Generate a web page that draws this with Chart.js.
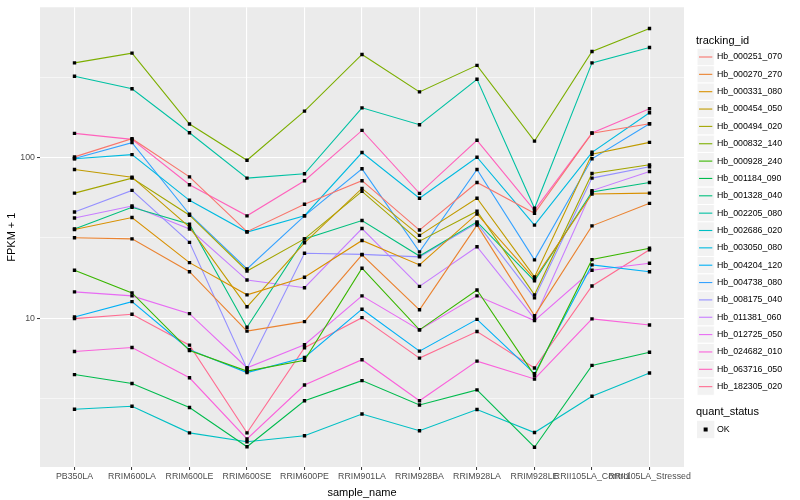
<!DOCTYPE html>
<html>
<head>
<meta charset="utf-8">
<script src="https://cdn.jsdelivr.net/npm/chart.js@4.4.1/dist/chart.umd.min.js"></script>
<style>
  html, body { margin: 0; padding: 0; background: #fff; }
  #wrap { width: 800px; height: 500px; }
</style>
</head>
<body>
<div id="wrap"><canvas id="chart"></canvas></div>
<script>
// =============================
// DATA (FPKM + 1)
// =============================
const samples = ['PB350LA', 'RRIM600LA', 'RRIM600LE', 'RRIM600SE', 'RRIM600PE', 'RRIM901LA',
  'RRIM928BA', 'RRIM928LA', 'RRIM928LE', 'RRII105LA_Control', 'RRII105LA_Stressed'];

const trackingIds = ['Hb_000251_070', 'Hb_000270_270', 'Hb_000331_080', 'Hb_000454_050',
  'Hb_000494_020', 'Hb_000832_140', 'Hb_000928_240', 'Hb_001184_090', 'Hb_001328_040',
  'Hb_002205_080', 'Hb_002686_020', 'Hb_003050_080', 'Hb_004204_120', 'Hb_004738_080',
  'Hb_008175_040', 'Hb_011381_060', 'Hb_012725_050', 'Hb_024682_010', 'Hb_063716_050',
  'Hb_182305_020'];

const colours = ['#F8766D', '#EA8331', '#D89000', '#C09B00', '#A3A500', '#7CAE00', '#39B600',
  '#00BB4E', '#00BF7D', '#00C1A3', '#00BFC4', '#00BAE0', '#00B0F6', '#35A2FF', '#9590FF',
  '#C77CFF', '#E76BF3', '#FA62DB', '#FF62BC', '#FF6C91'];

const Hb_000251_070 = [101, 131, 75.8, 34.6, 51.2, 71.8, 35.4, 70, 45, 141.8, 162.3];
const Hb_000270_270 = [31.7, 31.2, 19.5, 8.33, 9.54, 24.8, 11.3, 38, 10.4, 37.6, 51.9];
const Hb_000331_080 = [35.7, 42.4, 22.2, 14, 18, 30.5, 21.5, 44.6, 17.6, 59.3, 60.1];
const Hb_000454_050 = [84.3, 75.5, 36.9, 11.8, 29.5, 64.3, 32.8, 55.8, 18.1, 104.8, 124.3];
const Hb_000494_020 = [60.1, 74.5, 43.8, 19.7, 31.2, 61.6, 30.2, 46.4, 14, 79.6, 90.1];
const Hb_000832_140 = [388, 446, 161.6, 96.2, 194.4, 437.8, 256, 374.4, 126.5, 456.9, 634];
const Hb_000928_240 = [19.9, 14.4, 6.3, 4.7, 5.48, 20.5, 8.48, 15, 4.42, 23.2, 27.3];
const Hb_001184_090 = [4.47, 3.93, 2.79, 1.59, 3.07, 4.1, 2.89, 3.59, 1.58, 5.1, 6.16];
const Hb_001328_040 = [36, 49.1, 38.5, 8.8, 31.2, 40.6, 24.4, 39.8, 17.1, 61, 70];
const Hb_002205_080 = [320, 268, 142.7, 74.5, 79.3, 203.8, 160, 306.7, 48.4, 388, 483.6];
const Hb_002686_020 = [2.72, 2.84, 1.94, 1.71, 1.86, 2.54, 2.0, 2.71, 1.95, 3.28, 4.57];
const Hb_003050_080 = [98.2, 104.3, 54.2, 34.4, 43.5, 107.4, 55.8, 100.4, 38, 107.8, 189.8];
const Hb_004204_120 = [10.2, 12.7, 6.38, 4.6, 5.71, 11.4, 6.25, 9.86, 4.53, 21.5, 19.5];
const Hb_004738_080 = [98.6, 123.8, 44.4, 20.3, 43.4, 85.1, 25.9, 84.3, 23.1, 98.2, 162.3];
const Hb_008175_040 = [45.9, 62.5, 29.7, 4.86, 25.4, 25, 24.1, 39.1, 13.4, 74.5, 87.6];
const Hb_011381_060 = [42.1, 50, 35.9, 17.3, 15.5, 36.2, 15.8, 27.9, 9.96, 62.3, 81.9];
const Hb_012725_050 = [14.6, 13.8, 10.7, 4.93, 6.85, 13.8, 8.48, 13.8, 9.68, 19.9, 22];
const Hb_024682_010 = [6.22, 6.59, 4.27, 1.78, 3.85, 5.53, 3.07, 5.42, 4.2, 9.92, 9.1];
const Hb_063716_050 = [141.3, 129.8, 67.8, 43.4, 71.8, 147.5, 59.9, 128, 47, 142, 201];
const Hb_182305_020 = [9.96, 10.6, 6.81, 1.94, 6.56, 10.1, 5.66, 8.28, 4.91, 15.9, 26.7];

const seriesValues = [Hb_000251_070, Hb_000270_270, Hb_000331_080, Hb_000454_050,
  Hb_000494_020, Hb_000832_140, Hb_000928_240, Hb_001184_090, Hb_001328_040,
  Hb_002205_080, Hb_002686_020, Hb_003050_080, Hb_004204_120, Hb_004738_080,
  Hb_008175_040, Hb_011381_060, Hb_012725_050, Hb_024682_010, Hb_063716_050,
  Hb_182305_020];

const yBreaks = [3.1623, 10, 31.623, 100, 316.23];
const yLabels = { 10: '10', 100: '100' };

// =============================
// HELPERS
// =============================
const FONT = '"Liberation Sans", Arial, sans-serif';
const isMajorY = v => Math.abs(v - 10) < 0.01 || Math.abs(v - 100) < 0.01;

// grey panel behind everything
const panelBg = {
  id: 'panelBg',
  beforeDraw(chart) {
    const { ctx, chartArea: a } = chart;
    ctx.save();
    ctx.fillStyle = '#EBEBEB';
    ctx.fillRect(a.left, a.top, a.right - a.left, a.bottom - a.top);
    ctx.restore();
  }
};

// ggplot style legend on the right
const ggLegend = {
  id: 'ggLegend',
  afterDraw(chart) {
    const ctx = chart.ctx;
    const keyX = 697, keyW = 17.3, step = 17.35;
    ctx.save();
    ctx.textBaseline = 'middle';
    ctx.textAlign = 'left';

    ctx.fillStyle = '#000';
    ctx.font = '11px ' + FONT;
    ctx.fillText('tracking_id', 696, 41);

    ctx.font = '8.8px ' + FONT;
    trackingIds.forEach((id, i) => {
      const cy = 57 + i * step;
      ctx.fillStyle = '#F2F2F2';
      ctx.fillRect(keyX, cy - keyW / 2, keyW, keyW);
      ctx.strokeStyle = '#FFFFFF';
      ctx.lineWidth = 1;
      ctx.strokeRect(keyX, cy - keyW / 2, keyW, keyW);
      ctx.strokeStyle = colours[i];
      ctx.lineWidth = 1.1;
      ctx.beginPath();
      ctx.moveTo(keyX + 2, cy);
      ctx.lineTo(keyX + keyW - 2, cy);
      ctx.stroke();
      ctx.fillStyle = '#000';
      ctx.fillText(id, 717, cy);
    });

    ctx.font = '11px ' + FONT;
    ctx.fillText('quant_status', 696, 412);
    const oy = 429.5;
    ctx.fillStyle = '#F2F2F2';
    ctx.fillRect(keyX, oy - keyW / 2, keyW, keyW);
    ctx.fillStyle = '#000';
    ctx.fillRect(keyX + keyW / 2 - 2, oy - 2, 4, 4);
    ctx.font = '8.8px ' + FONT;
    ctx.fillText('OK', 717, oy);
    ctx.restore();
  }
};

// =============================
// DATASETS
// =============================
const lineSets = trackingIds.map((id, i) => ({
  label: id,
  data: seriesValues[i].map((v, j) => ({ x: j, y: v })),
  borderColor: colours[i],
  backgroundColor: colours[i],
  borderWidth: 1.1,
  pointRadius: 0,
  showLine: true,
  tension: 0,
  order: 2
}));

const pointSet = {
  label: 'OK',
  data: seriesValues.flatMap(vals => vals.map((v, j) => ({ x: j, y: v }))),
  showLine: false,
  pointStyle: 'rect',
  pointRadius: 2.4,
  pointBackgroundColor: '#000',
  pointBorderWidth: 0,
  order: 1
};

// =============================
// CHART
// =============================
new Chart(document.getElementById('chart'), {
  type: 'scatter',
  data: { datasets: [...lineSets, pointSet] },
  options: {
    responsive: true,
    maintainAspectRatio: false,
    animation: false,
    events: [],
    layout: { padding: { top: 5, right: 116, left: 0, bottom: 0 } },
    plugins: { legend: { display: false }, tooltip: { enabled: false } },
    scales: {
      x: {
        type: 'linear',
        min: -0.6,
        max: samples.length - 1 + 0.6,
        afterBuildTicks: axis => { axis.ticks = samples.map((_, i) => ({ value: i })); },
        afterFit: axis => { axis.height = 33; },
        border: { display: false },
        grid: { color: '#FFFFFF', lineWidth: 1.1, drawTicks: true, tickLength: 3, tickColor: '#333333', tickWidth: 1 },
        ticks: {
          autoSkip: false, maxRotation: 0, minRotation: 0, padding: 1,
          color: '#4D4D4D', font: { family: FONT, size: 8.8 },
          callback: v => samples[v] ?? ''
        },
        title: { display: true, text: 'sample_name', color: '#000', font: { family: FONT, size: 11 }, padding: { top: -3, bottom: 0 } }
      },
      y: {
        type: 'logarithmic',
        min: 1.19,
        max: 860,
        afterBuildTicks: axis => { axis.ticks = yBreaks.map(v => ({ value: v })); },
        afterFit: axis => { axis.width = 40; },
        border: { display: false },
        grid: {
          color: '#FFFFFF',
          lineWidth: c => (c.tick && isMajorY(c.tick.value) ? 1.1 : 0.55),
          drawTicks: true,
          tickLength: 3,
          tickWidth: 1,
          tickColor: c => (c.tick && isMajorY(c.tick.value) ? '#333333' : 'rgba(0,0,0,0)')
        },
        ticks: {
          padding: 2, color: '#4D4D4D', font: { family: FONT, size: 8.8 },
          callback: v => yLabels[Math.round(v)] && isMajorY(v) ? yLabels[Math.round(v)] : ''
        },
        title: { display: true, text: 'FPKM + 1', color: '#000', font: { family: FONT, size: 11 }, padding: { top: 5, bottom: 0 } }
      }
    }
  },
  plugins: [panelBg, ggLegend]
});
</script>
</body>
</html>
